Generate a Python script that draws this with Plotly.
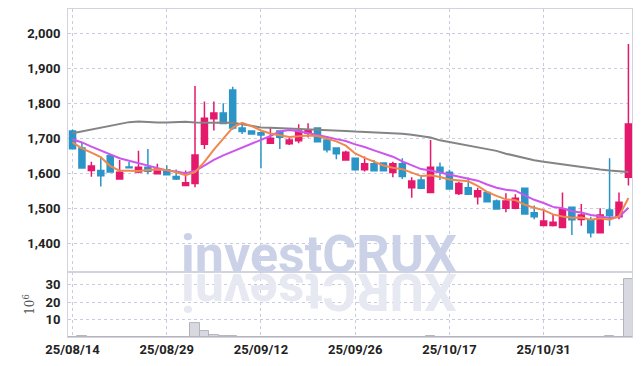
import plotly.graph_objects as go

dates = [
    "25/08/14", "25/08/18", "25/08/19", "25/08/20", "25/08/21", "25/08/22",
    "25/08/25", "25/08/26", "25/08/27", "25/08/28", "25/08/29",
    "25/09/01", "25/09/02", "25/09/03", "25/09/04", "25/09/05",
    "25/09/08", "25/09/09", "25/09/10", "25/09/11", "25/09/12",
    "25/09/15", "25/09/16", "25/09/17", "25/09/18", "25/09/19",
    "25/09/22", "25/09/23", "25/09/24", "25/09/25", "25/09/26",
    "25/09/29", "25/09/30", "25/10/01", "25/10/02", "25/10/10",
    "25/10/13", "25/10/14", "25/10/15", "25/10/16", "25/10/17",
    "25/10/20", "25/10/21", "25/10/22", "25/10/23", "25/10/24",
    "25/10/27", "25/10/28", "25/10/29", "25/10/30", "25/10/31",
    "25/11/03", "25/11/04", "25/11/05", "25/11/06", "25/11/07",
    "25/11/10", "25/11/11", "25/11/12", "25/11/13",
]

open_ = [1721, 1672, 1608, 1608, 1650, 1584, 1618, 1604, 1617, 1599,
         1610, 1591, 1565, 1571, 1683, 1756, 1772, 1838, 1729, 1721,
         1716, 1686, 1721, 1684, 1693, 1714, 1729, 1695, 1672, 1638,
         1643, 1610, 1627, 1629, 1602, 1627, 1559, 1581, 1545, 1617,
         1603, 1542, 1559, 1533, 1545, 1521, 1500, 1500, 1557, 1487,
         1451, 1451, 1445, 1503, 1468, 1467, 1430, 1495, 1476, 1589]
high = [1725, 1688, 1633, 1646, 1651, 1638, 1632, 1664, 1669, 1627,
        1623, 1611, 1608, 1849, 1805, 1805, 1800, 1847, 1743, 1723,
        1719, 1730, 1722, 1702, 1740, 1743, 1730, 1705, 1673, 1664,
        1644, 1648, 1638, 1630, 1633, 1643, 1589, 1590, 1695, 1631,
        1610, 1576, 1588, 1559, 1546, 1525, 1543, 1540, 1558, 1508,
        1498, 1484, 1545, 1504, 1512, 1476, 1500, 1643, 1545, 1969]
low = [1668, 1614, 1590, 1562, 1603, 1583, 1616, 1600, 1597, 1598,
       1594, 1581, 1563, 1560, 1669, 1722, 1740, 1724, 1712, 1710,
       1614, 1685, 1669, 1681, 1686, 1702, 1689, 1659, 1640, 1636,
       1607, 1605, 1606, 1606, 1589, 1584, 1530, 1556, 1543, 1581,
       1554, 1538, 1539, 1511, 1518, 1497, 1489, 1497, 1483, 1469,
       1450, 1448, 1444, 1424, 1450, 1417, 1429, 1450, 1469, 1565]
close = [1670, 1615, 1621, 1593, 1604, 1603, 1616, 1617, 1606, 1612,
         1596, 1584, 1573, 1652, 1757, 1772, 1742, 1729, 1719, 1712,
         1709, 1700, 1703, 1695, 1721, 1722, 1690, 1667, 1656, 1660,
         1610, 1627, 1607, 1607, 1627, 1591, 1578, 1557, 1617, 1603,
         1555, 1571, 1540, 1550, 1519, 1498, 1521, 1529, 1484, 1476,
         1464, 1460, 1498, 1467, 1481, 1430, 1481, 1479, 1517, 1741]

ma_short = [1688, 1671, 1659, 1646, 1620.6, 1607.2, 1607.4, 1606.6, 1609.2, 1610.8,
            1609.4, 1603.0, 1594.2, 1603.4, 1632.4, 1667.6, 1699.2, 1730.4, 1743.8, 1734.8,
            1722.2, 1713.8, 1708.6, 1703.8, 1705.6, 1708.2, 1706.2, 1699.0, 1691.2, 1679.0,
            1656.6, 1644.0, 1632.0, 1622.2, 1615.6, 1611.8, 1602.0, 1592.0, 1594.0, 1589.2,
            1582.0, 1580.6, 1577.2, 1563.8, 1547.0, 1535.6, 1525.6, 1523.4, 1510.2, 1501.6,
            1494.8, 1482.6, 1476.4, 1473.0, 1474.0, 1467.2, 1471.4, 1467.6, 1477.6, 1529.6]
ma_mid = [1697, 1688, 1676, 1665, 1652, 1643, 1636, 1629, 1621, 1615.7,
          1608.3, 1605.2, 1600.4, 1606.3, 1621.6, 1638.5, 1651.1, 1662.3, 1673.6, 1683.6,
          1694.9, 1706.5, 1719.5, 1723.8, 1720.2, 1715.2, 1710.0, 1703.8, 1697.5, 1692.3,
          1682.4, 1675.1, 1665.5, 1656.7, 1647.3, 1634.2, 1623.0, 1612.0, 1608.1, 1602.4,
          1596.9, 1591.3, 1584.6, 1578.9, 1568.1, 1558.8, 1553.1, 1550.3, 1537.0, 1524.3,
          1515.2, 1504.1, 1499.9, 1491.6, 1487.8, 1481.0, 1477.0, 1472.0, 1475.3, 1501.8]
ma_long = [1714, 1719, 1724, 1730, 1735, 1740, 1746, 1748, 1746, 1745,
           1745, 1746, 1747, 1745, 1744, 1744, 1745, 1744, 1740, 1735,
           1731, 1730, 1729, 1728, 1728, 1727, 1726, 1724, 1722, 1721,
           1719, 1718, 1717, 1716, 1715, 1713, 1710, 1706, 1702, 1694,
           1689, 1685, 1680, 1676, 1670, 1664, 1656, 1649, 1643, 1637,
           1633, 1629, 1625, 1622, 1619, 1615, 1611, 1608, 1605, 1604]

volume_m = [0.1, 0.4, 0.1, 0.1, 0.1, 0.1, 0.1, 0.1, 0.1, 0.1,
            0.1, 0.1, 0.1, 7.8, 3.4, 1.0, 0.4, 0.4, 0.1, 0.1,
            0.1, 0.1, 0.1, 0.1, 0.1, 0.1, 0.1, 0.1, 0.1, 0.1,
            0.1, 0.1, 0.1, 0.1, 0.1, 0.1, 0.1, 0.1, 0.5, 0.1,
            0.1, 0.1, 0.1, 0.1, 0.1, 0.1, 0.1, 0.1, 0.1, 0.1,
            0.1, 0.1, 0.1, 0.1, 0.1, 0.1, 0.1, 0.5, 0.1, 33.5]

tick_dates = ["25/08/14", "25/08/29", "25/09/12", "25/09/26", "25/10/17", "25/10/31"]
price_ticks = [1400, 1500, 1600, 1700, 1800, 1900, 2000]
vol_ticks = [10, 20, 30]

UP = "#e5196c"
DOWN = "#2c95c7"
GRID = "#c9cbe0"
FRAME = "#d2d3dc"
TICKFONT = dict(family="Roboto, sans-serif", size=13, color="#222222", weight="bold")

fig = go.Figure()

fig.add_trace(go.Candlestick(
    x=dates, open=open_, high=high, low=low, close=close,
    increasing=dict(line=dict(color=UP, width=1.5), fillcolor=UP),
    decreasing=dict(line=dict(color=DOWN, width=1.5), fillcolor=DOWN),
    whiskerwidth=0, xaxis="x", yaxis="y", showlegend=False,
))
fig.add_trace(go.Scatter(x=dates, y=ma_long, mode="lines",
                         line=dict(color="#848484", width=2), xaxis="x", yaxis="y",
                         showlegend=False))
fig.add_trace(go.Scatter(x=dates, y=ma_mid, mode="lines",
                         line=dict(color="#cc55ee", width=2), xaxis="x", yaxis="y",
                         showlegend=False))
fig.add_trace(go.Scatter(x=dates, y=ma_short, mode="lines",
                         line=dict(color="#f0884e", width=2), xaxis="x", yaxis="y",
                         showlegend=False))
fig.add_trace(go.Bar(x=dates, y=volume_m, marker=dict(color="#d8d8e0",
                     line=dict(color="#b4b4bc", width=1)),
                     xaxis="x2", yaxis="y2", showlegend=False))

split = 0.198
xr = [-0.48, 59.38]
common = dict(showgrid=True, gridcolor=GRID, griddash="dot", gridwidth=1,
              showline=True, linecolor=FRAME, linewidth=1, mirror=True,
              zeroline=False, automargin=False, ticks="")
# the page body has an 8px margin; the figure is sized so the plot area
# lands at x 68-632, y 9-337 of the 642x366 window
fig.update_layout(
    width=634, height=358,
    margin=dict(l=60, r=10, t=1, b=29),
    paper_bgcolor="white", plot_bgcolor="white",
    bargap=0, boxgap=0.2, boxgroupgap=0.2,
    xaxis=dict(domain=[0, 1], anchor="y", type="category", range=xr,
               matches="x2", showticklabels=False, rangeslider=dict(visible=False),
               tickmode="array", tickvals=tick_dates, **common),
    yaxis=dict(domain=[split, 1], anchor="x", range=[1318, 2069],
               tickmode="array", tickvals=price_ticks, tickformat=",",
               tickfont=TICKFONT, ticklabelstandoff=4, **common),
    xaxis2=dict(domain=[0, 1], anchor="y2", type="category", range=xr,
                tickmode="array", tickvals=tick_dates, tickfont=TICKFONT,
                tickangle=0, **common),
    yaxis2=dict(domain=[0, split], anchor="x2", range=[0, 37.3],
                tickmode="array", tickvals=vol_ticks, tickfont=TICKFONT,
                ticklabelstandoff=4,
                title=dict(text="10<sup>6</sup>", standoff=8,
                           font=dict(family="DejaVu Serif, serif", size=12, color="#555555")),
                **common),
)

fig.add_annotation(text="investCRUX", xref="paper", yref="paper", x=0.445, y=split,
                   xanchor="center", yanchor="bottom", yshift=-15, showarrow=False,
                   font=dict(family="Roboto", size=52, color="#cbd2e8", weight="bold"))
fig.add_annotation(text="XURCtsevni", xref="paper", yref="paper", x=0.445, y=split,
                   xanchor="center", yanchor="top", yshift=13, showarrow=False,
                   textangle=180,
                   font=dict(family="Roboto", size=52, color="#e6e8f2", weight="bold"))

fig.write_html("out.html")
